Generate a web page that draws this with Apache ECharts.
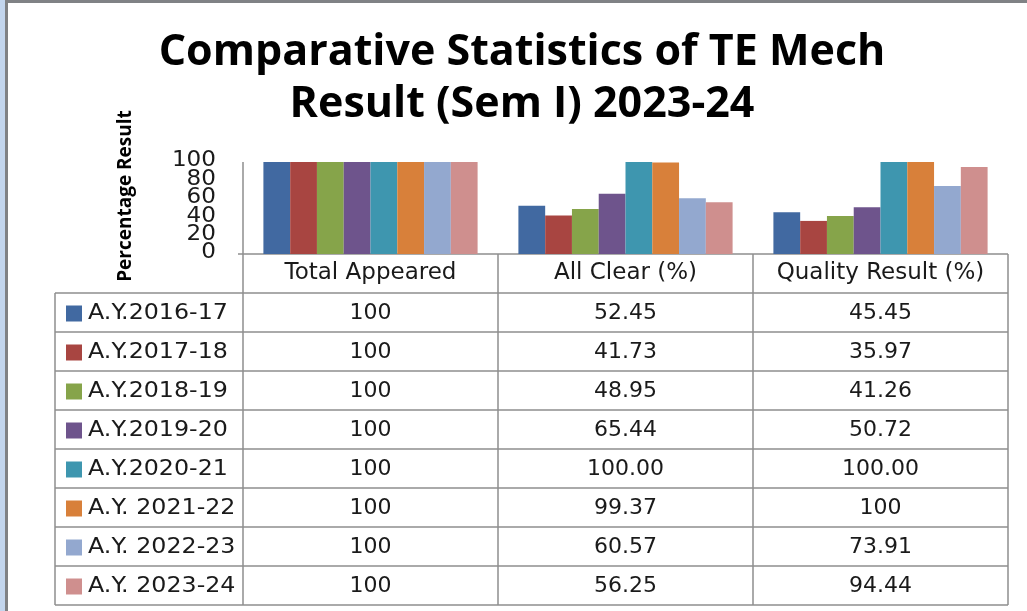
<!DOCTYPE html>
<html>
<head>
<meta charset="utf-8">
<script src="https://cdn.jsdelivr.net/npm/echarts@6/dist/echarts.min.js"></script>
<style>
html,body{margin:0;padding:0;background:#fff;}
#c{width:1027px;height:611px;}
</style>
</head>
<body>
<div id="c"></div>
<script>
const titleLines = ['Comparative Statistics of TE Mech', 'Result (Sem I) 2023-24'];
const yAxisTitle = 'Percentage Result';
const yTicks = [0, 20, 40, 60, 80, 100];
const categories = ['Total Appeared', 'All Clear (%)', 'Quality Result (%)'];
const years = ['A.Y.2016-17', 'A.Y.2017-18', 'A.Y.2018-19', 'A.Y.2019-20', 'A.Y.2020-21', 'A.Y. 2021-22', 'A.Y. 2022-23', 'A.Y. 2023-24'];
const totalAppeared = [100, 100, 100, 100, 100, 100, 100, 100];
const allClear = [52.45, 41.73, 48.95, 65.44, 100.00, 99.37, 60.57, 56.25];
const qualityResult = [45.45, 35.97, 41.26, 50.72, 100.00, 100, 73.91, 94.44];
const totalAppearedText = ['100', '100', '100', '100', '100', '100', '100', '100'];
const allClearText = ['52.45', '41.73', '48.95', '65.44', '100.00', '99.37', '60.57', '56.25'];
const qualityResultText = ['45.45', '35.97', '41.26', '50.72', '100.00', '100', '73.91', '94.44'];
const colors = ['#4169A1', '#A84541', '#86A44A', '#6E548C', '#3E96AF', '#D8803A', '#93A8CF', '#CF8F8E'];

const chart = echarts.init(document.getElementById('c'), null, {renderer: 'canvas'});

const G = {left: 243, right: 1008, top: 162, bottom: 254};
const rowTop = 293, rowH = 39, tableLeft = 55;
const lineColor = '#8E8E8E';
const tableFont = 'DejaVu Sans';

const series = years.map((y, i) => ({
  name: y,
  type: 'bar',
  data: [totalAppeared[i], allClear[i], qualityResult[i]],
  itemStyle: {color: colors[i]},
  barGap: '0%',
  barCategoryGap: '16%',
  silent: true
}));

const graphics = [];
// window frame
graphics.push({type: 'rect', shape: {x: 0, y: 0, width: 5, height: 611}, style: {fill: '#C3D6EE'}, z: 100});
graphics.push({type: 'rect', shape: {x: 5, y: 0, width: 3, height: 611}, style: {fill: '#808285'}, z: 100});
graphics.push({type: 'rect', shape: {x: 5, y: 0, width: 1022, height: 3}, style: {fill: '#808285'}, z: 100});

// title
titleLines.forEach((t, i) => {
  graphics.push({type: 'text', x: 522, y: 53 + i * 52, style: {text: t, align: 'center', verticalAlign: 'middle', font: 'bold 43px "Open Sans", sans-serif', fill: '#000'}});
});
// y axis title
graphics.push({type: 'text', x: 126, y: 196, rotation: Math.PI / 2, style: {text: yAxisTitle, align: 'center', verticalAlign: 'middle', font: 'bold 19px "Open Sans", sans-serif', fill: '#000'}});

// table lines
const colW = (G.right - G.left) / categories.length;
const nRows = years.length;
const tableBottom = rowTop + nRows * rowH;
for (let r = 0; r <= nRows; r++) {
  const y = rowTop + r * rowH;
  graphics.push({type: 'line', shape: {x1: tableLeft, y1: y, x2: G.right, y2: y}, style: {stroke: lineColor, lineWidth: 1.5}});
}
graphics.push({type: 'line', shape: {x1: tableLeft, y1: rowTop, x2: tableLeft, y2: tableBottom}, style: {stroke: lineColor, lineWidth: 1.5}});
for (let c = 0; c <= categories.length; c++) {
  const x = G.left + c * colW;
  graphics.push({type: 'line', shape: {x1: x, y1: c === 0 ? G.top : G.bottom, x2: x, y2: tableBottom}, style: {stroke: lineColor, lineWidth: 1.5}});
}
graphics.push({type: 'line', shape: {x1: G.left - 5, y1: G.bottom, x2: G.right, y2: G.bottom}, style: {stroke: lineColor, lineWidth: 1.5}});

// table cells
const colTexts = [totalAppearedText, allClearText, qualityResultText];
years.forEach((y, r) => {
  const cy = rowTop + r * rowH + rowH / 2 + 1;
  graphics.push({type: 'rect', shape: {x: 66, y: cy - 8, width: 16, height: 16}, style: {fill: colors[r]}});
  graphics.push({type: 'text', x: 88, y: cy, scaleX: 1.08, style: {text: y, align: 'left', verticalAlign: 'middle', font: '22px "' + tableFont + '"', fill: '#1a1a1a'}});
  colTexts.forEach((arr, c) => {
    graphics.push({type: 'text', x: G.left + (c + 0.5) * colW, y: cy, style: {text: arr[r], align: 'center', verticalAlign: 'middle', font: '22px "' + tableFont + '"', fill: '#1a1a1a'}});
  });
});

chart.setOption({
  animation: false,
  backgroundColor: '#fff',
  grid: {left: G.left, right: 1027 - G.right, top: G.top, bottom: 611 - G.bottom, containLabel: false},
  xAxis: {
    type: 'category',
    data: categories,
    axisLine: {show: false},
    axisTick: {show: false},
    axisLabel: {fontFamily: tableFont, fontSize: 23, color: '#1a1a1a', margin: 8, interval: 0}
  },
  yAxis: {
    type: 'value',
    min: 0, max: 100, interval: 20,
    axisLine: {show: false},
    axisTick: {show: false},
    splitLine: {show: false},
    axisLabel: {show: false}
  },
  series: series,
  graphic: graphics
});

// y-axis tick labels placed through the axis scale
const yLabelGraphics = yTicks.map(v => {
  const py = chart.convertToPixel({yAxisIndex: 0}, v);
  return {type: 'text', x: 216, y: py - 1, scaleX: 1.1, style: {text: String(v), align: 'right', verticalAlign: 'middle', font: '21px "' + tableFont + '"', fill: '#1a1a1a'}};
});
chart.setOption({graphic: graphics.concat(yLabelGraphics)});
</script>
</body>
</html>
